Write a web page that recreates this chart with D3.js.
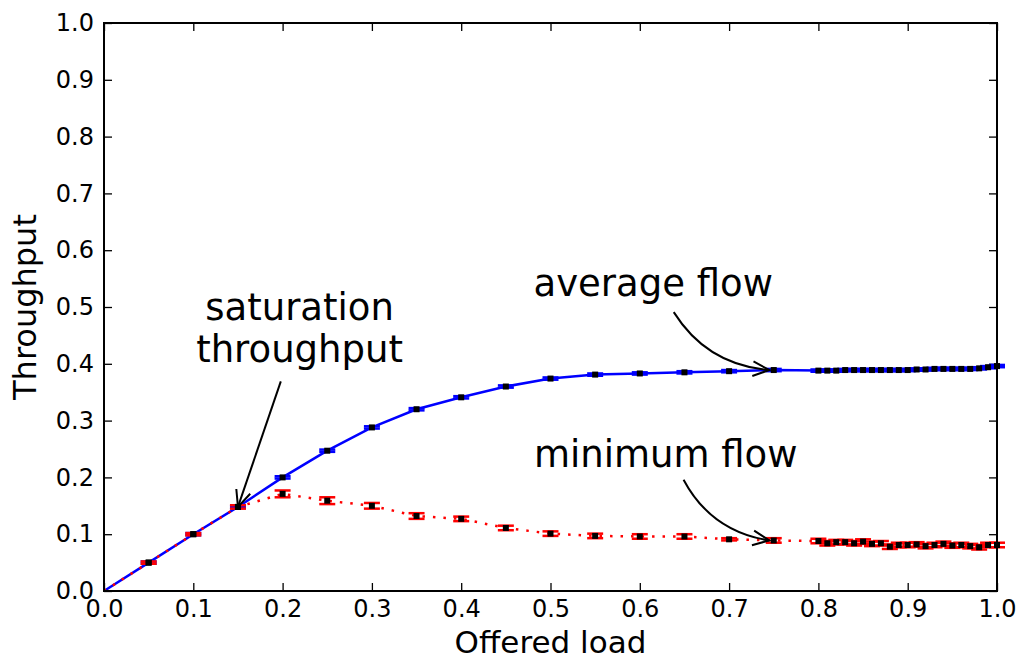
<!DOCTYPE html>
<html>
<head>
<meta charset="utf-8">
<script src="https://cdn.jsdelivr.net/npm/d3@7"></script>
<style>
  body { margin: 0; background: #fff; }
  svg { display: block; font-family: "DejaVu Sans", sans-serif; }
</style>
</head>
<body>
<svg id="chart"></svg>
<script>
// offered load
var loads = [0, 0.05, 0.1, 0.15, 0.2, 0.25, 0.3, 0.35, 0.4, 0.45, 0.5, 0.55, 0.6, 0.65, 0.7, 0.75,
    0.8, 0.81, 0.82, 0.83, 0.84, 0.85, 0.86, 0.87, 0.88, 0.89, 0.9,
    0.91, 0.92, 0.93, 0.94, 0.95, 0.96, 0.97, 0.98, 0.99, 1.0]

var avgFlow = [0, 0.05, 0.1, 0.148, 0.2, 0.247, 0.288, 0.32, 0.341, 0.36, 0.374, 0.381, 0.383, 0.385, 0.387, 0.389,
    0.388, 0.388, 0.388, 0.389, 0.389, 0.389, 0.389, 0.389, 0.389, 0.389, 0.389,
    0.390, 0.390, 0.391, 0.391, 0.391, 0.391, 0.391, 0.392, 0.394, 0.396]
var avgErr = [0, 0.002, 0.002, 0.002, 0.002, 0.002, 0.002, 0.002, 0.002, 0.002, 0.002, 0.002, 0.002, 0.002, 0.002, 0.002,
    0.002, 0.002, 0.002, 0.002, 0.002, 0.002, 0.002, 0.002, 0.002, 0.002, 0.002,
    0.002, 0.002, 0.002, 0.002, 0.002, 0.002, 0.002, 0.002, 0.002, 0.002]

var minFlow = [0, 0.05, 0.1, 0.148, 0.171, 0.159, 0.15, 0.132, 0.127, 0.111, 0.101, 0.097, 0.096, 0.096, 0.091, 0.089,
    0.088, 0.084, 0.086, 0.086, 0.084, 0.087, 0.083, 0.084, 0.078, 0.081, 0.081,
    0.082, 0.079, 0.081, 0.083, 0.080, 0.081, 0.079, 0.077, 0.081, 0.081]
var minErr = [0, 0.002, 0.002, 0.003, 0.006, 0.006, 0.005, 0.005, 0.004, 0.004, 0.004, 0.004, 0.004, 0.004, 0.002, 0.004,
    0.004, 0.004, 0.004, 0.004, 0.004, 0.004, 0.004, 0.004, 0.004, 0.004, 0.004,
    0.004, 0.004, 0.004, 0.004, 0.004, 0.004, 0.004, 0.004, 0.004, 0.004]

var tickValues = [0, 0.1, 0.2, 0.3, 0.4, 0.5, 0.6, 0.7, 0.8, 0.9, 1.0]

// annotations: label lines, text anchor (data coords), arrow tail and tip (data coords)
var notes = [
    { lines: ["saturation", "throughput"], tx: 0.219, ty: 0.477, ax: 0.198, ay: 0.369, px: 0.15, py: 0.148, bend: 0 },
    { lines: ["average flow"], tx: 0.615, ty: 0.519, ax: 0.638, ay: 0.491, px: 0.745, py: 0.389, bend: 0.25 },
    { lines: ["minimum flow"], tx: 0.629, ty: 0.218, ax: 0.649, ay: 0.196, px: 0.745, py: 0.089, bend: 0.25 }
]

var dimensions = {
    width: 1022,
    height: 662,
    margin: { top: 23, bottom: 71, right: 25, left: 104 }
}

var svg = d3.select("#chart")
    .attr("width", dimensions.width)
    .attr("height", dimensions.height)

var xScale = d3.scaleLinear()
    .domain([0, 1])
    .range([dimensions.margin.left, dimensions.width - dimensions.margin.right])

var yScale = d3.scaleLinear()
    .domain([0, 1])
    .range([dimensions.height - dimensions.margin.bottom, dimensions.margin.top])

var fmt = d3.format(".1f")

// axes with inward ticks
svg.append("g")
    .attr("transform", "translate(0," + yScale(0) + ")")
    .call(d3.axisBottom(xScale).tickValues(tickValues).tickFormat(fmt).tickSize(-8).tickPadding(9))
svg.append("g")
    .attr("transform", "translate(" + xScale(0) + ",0)")
    .call(d3.axisLeft(yScale).tickValues(tickValues).tickFormat(fmt).tickSize(-8).tickPadding(10))
svg.append("g")
    .attr("transform", "translate(0," + yScale(1) + ")")
    .call(d3.axisTop(xScale).tickValues(tickValues).tickFormat("").tickSize(-8))
svg.append("g")
    .attr("transform", "translate(" + xScale(1) + ",0)")
    .call(d3.axisRight(yScale).tickValues(tickValues).tickFormat("").tickSize(-8))

svg.selectAll(".domain").remove()
svg.selectAll(".tick line").attr("stroke", "#000").attr("stroke-width", 1.3)
svg.selectAll(".tick text")
    .attr("font-size", "24px")
    .attr("font-family", "DejaVu Sans")
    .attr("fill", "#000")

var series = loads.map(function (x, i) {
    return { x: x, avg: avgFlow[i], avgErr: avgErr[i], min: minFlow[i], minErr: minErr[i] }
})

function drawSeries(key, errKey, color, dash) {
    var line = d3.line()
        .x(d => xScale(d.x))
        .y(d => yScale(d[key]))

    svg.append("path")
        .datum(series)
        .attr("d", line)
        .attr("fill", "none")
        .attr("stroke", color)
        .attr("stroke-width", 2.5)
        .attr("stroke-dasharray", dash)

    var eb = svg.append("g")
        .selectAll("g")
        .data(series.filter(d => d.x > 0))
        .enter()
        .append("g")

    eb.append("line")
        .attr("x1", d => xScale(d.x))
        .attr("x2", d => xScale(d.x))
        .attr("y1", d => yScale(d[key] - d[errKey]))
        .attr("y2", d => yScale(d[key] + d[errKey]))
        .attr("stroke", color)
        .attr("stroke-width", 2.5)
    ;[-1, 1].forEach(function (s) {
        eb.append("line")
            .attr("x1", d => xScale(d.x) - 8)
            .attr("x2", d => xScale(d.x) + 8)
            .attr("y1", d => yScale(d[key] + s * d[errKey]))
            .attr("y2", d => yScale(d[key] + s * d[errKey]))
            .attr("stroke", color)
            .attr("stroke-width", 2.5)
    })
}

drawSeries("avg", "avgErr", "#0000ff", null)
drawSeries("min", "minErr", "#ff0000", "2.5,8")

// black square markers
;["avg", "min"].forEach(function (key) {
    svg.append("g")
        .selectAll("rect")
        .data(series.filter(d => d.x > 0))
        .enter()
        .append("rect")
        .attr("x", d => xScale(d.x) - 3)
        .attr("y", d => yScale(d[key]) - 3)
        .attr("width", 6)
        .attr("height", 6)
        .attr("fill", "#000")
})

// frame
svg.append("rect")
    .attr("x", xScale(0))
    .attr("y", yScale(1))
    .attr("width", xScale(1) - xScale(0))
    .attr("height", yScale(0) - yScale(1))
    .attr("fill", "none")
    .attr("stroke", "#000")
    .attr("stroke-width", 2)

// annotations
notes.forEach(function (n) {
    var t = svg.append("text")
        .attr("x", xScale(n.tx))
        .attr("y", yScale(n.ty))
        .attr("text-anchor", "middle")
        .attr("font-size", "37px")
        .attr("fill", "#000")
    n.lines.forEach(function (l, i) {
        t.append("tspan")
            .attr("x", xScale(n.tx))
            .attr("dy", i === 0 ? 0 : 42)
            .text(l)
    })

    var x0 = xScale(n.ax), y0 = yScale(n.ay)
    var x1 = xScale(n.px), y1 = yScale(n.py)
    var dx = x1 - x0, dy = y1 - y0
    // control point offset perpendicular to the chord
    var cx = (x0 + x1) / 2 - dy * n.bend, cy = (y0 + y1) / 2 + dx * n.bend
    svg.append("path")
        .attr("d", "M" + x0 + "," + y0 + " Q" + cx + "," + cy + " " + x1 + "," + y1)
        .attr("fill", "none")
        .attr("stroke", "#000")
        .attr("stroke-width", 2)

    // open arrow head along end tangent
    var ang = Math.atan2(y1 - cy, x1 - cx)
    var len = 18, spread = 0.42
    var head = [ang + Math.PI - spread, ang + Math.PI + spread].map(function (a) {
        return [x1 + len * Math.cos(a), y1 + len * Math.sin(a)]
    })
    svg.append("path")
        .attr("d", "M" + head[0] + " L" + x1 + "," + y1 + " L" + head[1])
        .attr("fill", "none")
        .attr("stroke", "#000")
        .attr("stroke-width", 2)
})

// axis labels
svg.append("text")
    .attr("x", (xScale(0) + xScale(1)) / 2)
    .attr("y", 653)
    .attr("text-anchor", "middle")
    .attr("font-size", "31px")
    .text("Offered load")

svg.append("text")
    .attr("transform", "translate(36," + (yScale(0) + yScale(1)) / 2 + ") rotate(-90)")
    .attr("text-anchor", "middle")
    .attr("font-size", "32px")
    .text("Throughput")
</script>
</body>
</html>
